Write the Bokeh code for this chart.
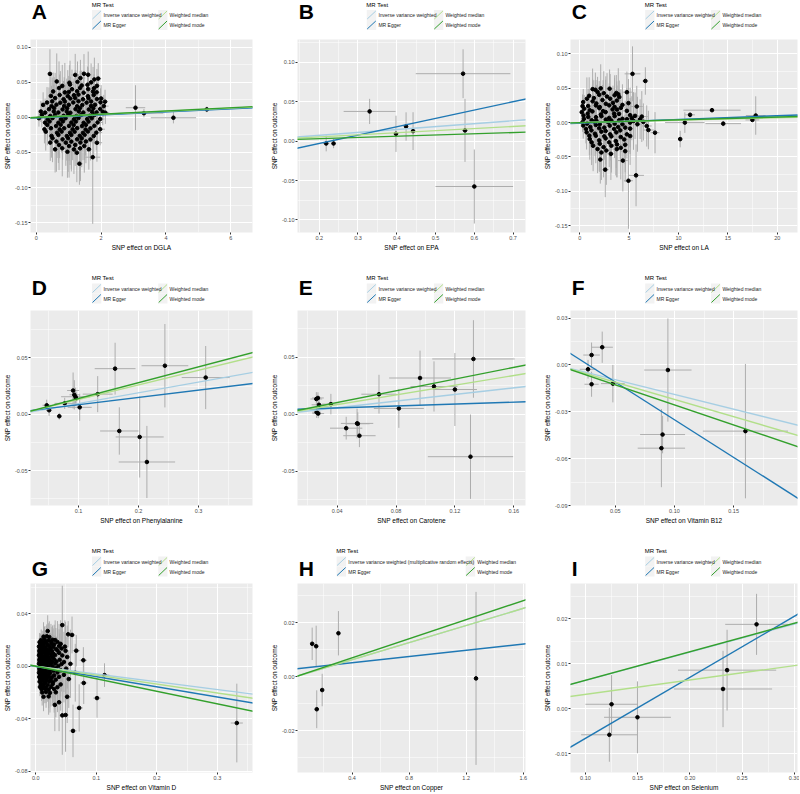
from bokeh.plotting import figure
from bokeh.layouts import row, column
from bokeh.models import Range1d, FixedTicker, NumeralTickFormatter, Slope, ColumnDataSource
from bokeh.core.properties import value
from bokeh.embed import file_html
from bokeh.resources import INLINE

FONT = "Liberation Sans"
METHODS = ["Inverse variance weighted", "MR Egger", "Weighted median", "Weighted mode"]
METHODS_H = ["Inverse variance weighted (multiplicative random effects)", "MR Egger",
             "Weighted median", "Weighted mode"]
COLORS = ["#a6cee3", "#1f78b4", "#b2df8a", "#33a02c"]
Y_LABEL = "SNP effect on outcome"

# ---------------- Panel A : DGLA ----------------
A_x = [0.42, 1.20, 1.47, 1.60,
       1.36, 1.79, 1.91,
       0.63, 1.02, 1.27, 1.69,
       0.80, 1.04, 1.40, 1.58, 1.87,
       0.70, 1.10, 1.35, 1.60, 1.78,
       0.52, 0.88, 1.00, 1.26, 1.46, 1.75, 1.86,
       0.45, 0.72, 0.97, 1.16, 1.30, 1.59, 1.77,
       0.58, 0.84, 1.05, 1.20, 1.44, 1.61, 1.87, 2.00,
       0.33, 0.49, 0.74, 0.88, 1.14, 1.30, 1.55, 1.69, 1.98, 2.12,
       0.21, 0.47, 0.62, 0.86, 1.00, 1.26, 1.42, 1.69, 1.81, 2.08,
       0.39, 0.55, 0.81, 0.95, 1.21, 1.35, 1.62, 1.76, 1.97,
       0.14, 0.27, 0.54, 0.68, 0.94, 1.05, 1.31, 1.45, 1.72, 1.86, 2.05, 2.13,
       0.17, 0.43, 0.58, 0.84, 0.98, 1.24, 1.38, 1.65, 1.79,
       0.08, 0.35, 0.50, 0.76, 0.90, 1.16, 1.30, 1.57, 1.71, 1.97,
       0.27, 0.41, 0.68, 0.82, 1.08, 1.22, 1.46, 1.61, 1.89,
       0.34, 0.61, 0.75, 1.01, 1.15, 1.41, 1.53, 1.79,
       0.25, 0.45, 0.72, 0.86, 1.12, 1.26, 1.52, 1.67, 1.97,
       0.29, 0.64, 0.78, 1.04, 1.18, 1.44, 1.59, 1.85,
       0.47, 0.68, 0.94, 1.08, 1.34, 1.49, 1.77,
       0.50, 0.81, 0.98, 1.26, 1.40, 1.67,
       0.43, 0.62, 0.91, 1.08, 1.36, 1.53, 1.87,
       0.70, 1.01, 1.20, 1.48,
       0.58, 0.80, 1.16, 1.35, 1.62,
       0.96, 1.25,
       1.74,
       1.33,
       3.06, 3.32, 4.23, 5.26]
A_y = [0.0620, 0.0605, 0.0622, 0.0608,
       0.0560, 0.0541, 0.0553,
       0.0512, 0.0494, 0.0507, 0.0499,
       0.0449, 0.0468, 0.0455, 0.0465, 0.0450,
       0.0418, 0.0401, 0.0420, 0.0403, 0.0415,
       0.0370, 0.0356, 0.0361, 0.0372, 0.0352, 0.0369, 0.0358,
       0.0306, 0.0320, 0.0303, 0.0316, 0.0325, 0.0302, 0.0319,
       0.0275, 0.0259, 0.0270, 0.0276, 0.0258, 0.0273, 0.0262, 0.0270,
       0.0212, 0.0228, 0.0209, 0.0226, 0.0213, 0.0230, 0.0211, 0.0227, 0.0214, 0.0224,
       0.0178, 0.0160, 0.0181, 0.0163, 0.0179, 0.0158, 0.0176, 0.0164, 0.0180, 0.0161,
       0.0117, 0.0133, 0.0114, 0.0131, 0.0118, 0.0135, 0.0113, 0.0129, 0.0119,
       0.0084, 0.0068, 0.0085, 0.0070, 0.0083, 0.0066, 0.0086, 0.0069, 0.0082, 0.0071, 0.0079, 0.0067,
       0.0037, 0.0020, 0.0036, 0.0022, 0.0038, 0.0019, 0.0035, 0.0023, 0.0034,
       -0.0011, -0.0027, -0.0010, -0.0026, -0.0012, -0.0028, -0.0009, -0.0025, -0.0013, -0.0024,
       -0.0074, -0.0058, -0.0076, -0.0057, -0.0073, -0.0059, -0.0077, -0.0060, -0.0072,
       -0.0107, -0.0123, -0.0105, -0.0121, -0.0108, -0.0124, -0.0106, -0.0120,
       -0.0170, -0.0154, -0.0171, -0.0155, -0.0169, -0.0153, -0.0172, -0.0156, -0.0168,
       -0.0203, -0.0219, -0.0202, -0.0218, -0.0204, -0.0220, -0.0201, -0.0217,
       -0.0264, -0.0249, -0.0266, -0.0250, -0.0263, -0.0248, -0.0265,
       -0.0298, -0.0313, -0.0297, -0.0312, -0.0299, -0.0314,
       -0.0359, -0.0344, -0.0360, -0.0345, -0.0358, -0.0343, -0.0361,
       -0.0393, -0.0408, -0.0392, -0.0407,
       -0.0455, -0.0440, -0.0456, -0.0441, -0.0454,
       -0.0490, -0.0503,
       -0.0567,
       -0.0660,
       0.0138, 0.0060, -0.0005, 0.0114]
A_sx = [0.08, 0.12, 0.06, 0.10,
        0.15, 0.07, 0.09,
        0.05, 0.11, 0.08, 0.13,
        0.09, 0.06, 0.14, 0.07, 0.10,
        0.12, 0.08, 0.05, 0.16, 0.09,
        0.07, 0.10, 0.13, 0.06, 0.11, 0.08, 0.12,
        0.09, 0.14, 0.07, 0.10, 0.05, 0.12, 0.18,
        0.06, 0.11, 0.08, 0.15, 0.09, 0.07, 0.20, 0.10,
        0.05, 0.09, 0.12, 0.07, 0.10, 0.14, 0.08, 0.11, 0.16, 0.09,
        0.04, 0.08, 0.11, 0.06, 0.13, 0.09, 0.07, 0.12, 0.10, 0.15,
        0.07, 0.10, 0.06, 0.12, 0.08, 0.15, 0.09, 0.11, 0.13,
        0.03, 0.06, 0.09, 0.12, 0.07, 0.10, 0.14, 0.08, 0.11, 0.17, 0.09, 0.12,
        0.05, 0.08, 0.11, 0.07, 0.13, 0.09, 0.12, 0.10, 0.14,
        0.03, 0.07, 0.10, 0.06, 0.12, 0.08, 0.15, 0.09, 0.11, 0.13,
        0.05, 0.09, 0.06, 0.11, 0.08, 0.13, 0.10, 0.07, 0.16,
        0.07, 0.10, 0.13, 0.08, 0.11, 0.06, 0.14, 0.09,
        0.05, 0.08, 0.12, 0.07, 0.10, 0.13, 0.09, 0.11, 0.15,
        0.06, 0.11, 0.08, 0.12, 0.09, 0.14, 0.10, 0.18,
        0.08, 0.12, 0.07, 0.10, 0.13, 0.09, 0.11,
        0.09, 0.06, 0.12, 0.08, 0.14, 0.10,
        0.07, 0.11, 0.09, 0.13, 0.08, 0.12, 0.16,
        0.10, 0.08, 0.12, 0.15,
        0.09, 0.13, 0.07, 0.11, 0.10,
        0.12, 0.09,
        0.23,
        0.10,
        0.30, 0.60, 0.70, 0.50]
A_sy = [0.035, 0.030, 0.028, 0.033,
        0.026, 0.031, 0.022,
        0.040, 0.025, 0.029, 0.027,
        0.030, 0.034, 0.021, 0.026, 0.024,
        0.038, 0.028, 0.024, 0.031, 0.020,
        0.027, 0.042, 0.023, 0.030, 0.026, 0.035, 0.022,
        0.033, 0.029, 0.037, 0.024, 0.028, 0.032, 0.021,
        0.036, 0.026, 0.031, 0.040, 0.025, 0.029, 0.023, 0.019,
        0.022, 0.034, 0.045, 0.027, 0.030, 0.038, 0.024, 0.028, 0.020, 0.017,
        0.018, 0.029, 0.036, 0.041, 0.026, 0.033, 0.030, 0.027, 0.022, 0.016,
        0.031, 0.044, 0.027, 0.035, 0.040, 0.029, 0.033, 0.025, 0.021,
        0.015, 0.020, 0.038, 0.030, 0.047, 0.034, 0.041, 0.028, 0.032, 0.024, 0.019, 0.016,
        0.018, 0.035, 0.029, 0.043, 0.031, 0.039, 0.027, 0.036, 0.022,
        0.012, 0.026, 0.040, 0.033, 0.048, 0.030, 0.037, 0.029, 0.034, 0.021,
        0.024, 0.031, 0.045, 0.036, 0.028, 0.042, 0.033, 0.030, 0.025,
        0.029, 0.038, 0.033, 0.050, 0.027, 0.035, 0.031, 0.026,
        0.020, 0.034, 0.041, 0.030, 0.044, 0.028, 0.037, 0.032, 0.023,
        0.027, 0.036, 0.030, 0.046, 0.033, 0.039, 0.029, 0.025,
        0.031, 0.040, 0.035, 0.052, 0.030, 0.036, 0.028,
        0.034, 0.029, 0.048, 0.037, 0.041, 0.030,
        0.026, 0.043, 0.033, 0.039, 0.055, 0.031, 0.027,
        0.036, 0.045, 0.030, 0.038,
        0.033, 0.040, 0.035, 0.044, 0.029,
        0.037, 0.042,
        0.095,
        0.030,
        0.032, 0.006, 0.008, 0.004]
A_slope = [0.0021, 0.0022, 0.0022, 0.0023]
A_icpt = [0.0, -0.0010, 0.0, 0.0]
A_xticks = [0, 2, 4, 6]
A_yticks = [-0.15, -0.10, -0.05, 0.00, 0.05, 0.10]

# ---------------- Panel B : EPA ----------------
B_x = [0.218, 0.237, 0.330, 0.398, 0.424, 0.442, 0.571, 0.576, 0.600]
B_y = [-0.0030, -0.0030, 0.0377, 0.0093, 0.0186, 0.0127, 0.0856, 0.0136, -0.0576]
B_sx = [0.008, 0.006, 0.067, 0.006, 0.005, 0.006, 0.122, 0.007, 0.100]
B_sy = [0.010, 0.006, 0.016, 0.023, 0.018, 0.024, 0.031, 0.040, 0.047]
B_slope = [0.037, 0.106, 0.0266, 0.0156]
B_icpt = [0.0, -0.0242, 0.0, 0.0]
B_xticks = [0.2, 0.3, 0.4, 0.5, 0.6, 0.7]
B_yticks = [-0.10, -0.05, 0.00, 0.05, 0.10]

# ---------------- Panel C : LA ----------------
C_x = [1.30, 1.58, 2.12, 3.02,
       1.80, 2.43, 3.70, 3.90, 4.77,
       0.95, 1.97, 2.76, 3.53, 4.00,
       0.72, 1.42, 2.30, 3.08, 3.75,
       0.35, 1.30, 1.68, 2.64, 3.36, 4.32, 4.93,
       0.28, 0.85, 1.64, 2.02, 2.98, 3.52, 4.16, 5.77,
       0.45, 1.01, 1.97, 2.36, 3.32, 3.77, 4.77,
       0.20, 0.80, 1.28, 2.14, 2.62, 3.48, 3.97, 5.10, 5.60,
       0.38, 0.86, 1.64, 2.19, 2.98, 3.53, 4.32, 5.27, 6.28,
       0.42, 1.20, 1.68, 2.64, 3.20, 3.99, 4.77, 5.44, 6.11,
       0.28, 0.75, 1.47, 2.02, 2.88, 3.53, 4.32, 5.10, 5.84, 6.44,
       0.35, 1.07, 1.62, 2.48, 3.03, 3.89, 4.60, 6.78,
       0.62, 1.18, 1.97, 2.62, 3.48, 4.10, 5.10, 6.95,
       0.69, 1.54, 2.19, 3.08, 3.70, 4.77, 7.62,
       0.97, 1.62, 2.48, 3.20, 4.15, 5.10,
       1.01, 1.97, 2.62, 3.65, 4.50,
       1.20, 2.02, 2.98, 3.77, 4.60,
       1.35, 2.41, 3.20, 4.15,
       1.80, 2.69, 3.75, 4.60,
       2.19, 3.15,
       2.08, 4.36,
       2.58, 5.70, 4.93,
       5.34, 6.64, 10.17, 10.64, 11.17, 13.39, 14.53, 17.48, 17.82]
C_y = [0.0487, 0.0478, 0.0499, 0.0494,
       0.0446, 0.0428, 0.0432, 0.0412, 0.0443,
       0.0390, 0.0405, 0.0380, 0.0399, 0.0372,
       0.0348, 0.0357, 0.0328, 0.0347, 0.0321,
       0.0299, 0.0310, 0.0279, 0.0274, 0.0288, 0.0258, 0.0284,
       0.0240, 0.0241, 0.0250, 0.0226, 0.0251, 0.0230, 0.0215, 0.0235,
       0.0202, 0.0180, 0.0211, 0.0167, 0.0192, 0.0190, 0.0171,
       0.0152, 0.0131, 0.0163, 0.0118, 0.0153, 0.0131, 0.0127, 0.0108, 0.0098,
       0.0104, 0.0083, 0.0079, 0.0093, 0.0068, 0.0094, 0.0055, 0.0064, 0.0088,
       0.0055, 0.0034, 0.0029, 0.0044, 0.0030, 0.0034, 0.0049, 0.0024, 0.0049,
       0.0006, -0.0015, 0.0015, -0.0025, 0.0005, -0.0016, -0.0024, 0.0000, -0.0024, 0.0010,
       -0.0043, -0.0064, -0.0034, -0.0073, -0.0044, -0.0064, -0.0073, -0.0049,
       -0.0093, -0.0113, -0.0083, -0.0122, -0.0093, -0.0113, -0.0088, -0.0108,
       -0.0142, -0.0162, -0.0132, -0.0171, -0.0142, -0.0171, -0.0147,
       -0.0190, -0.0191, -0.0200, -0.0201, -0.0210, -0.0196,
       -0.0240, -0.0259, -0.0230, -0.0269, -0.0245,
       -0.0288, -0.0308, -0.0288, -0.0318, -0.0323,
       -0.0337, -0.0357, -0.0337, -0.0367,
       -0.0386, -0.0406, -0.0386, -0.0416,
       -0.0435, -0.0455,
       -0.0538, -0.0553,
       -0.0685, -0.0768, -0.0846,
       0.0710, 0.0606, -0.0240, 0.0000, 0.0113, 0.0181, -0.0015, 0.0039, 0.0103]
C_sx = [0.20, 0.35, 0.15, 0.40,
        0.25, 0.30, 0.45, 0.20, 0.50,
        0.15, 0.30, 0.40, 0.25, 0.35,
        0.10, 0.20, 0.35, 0.30, 0.45,
        0.10, 0.25, 0.20, 0.40, 0.30, 0.55, 0.35,
        0.08, 0.15, 0.30, 0.20, 0.45, 0.25, 0.40, 0.60,
        0.10, 0.20, 0.35, 0.25, 0.30, 0.50, 0.40,
        0.06, 0.15, 0.25, 0.35, 0.20, 0.40, 0.30, 0.55, 0.45,
        0.08, 0.20, 0.30, 0.15, 0.35, 0.25, 0.45, 0.40, 0.60,
        0.10, 0.20, 0.25, 0.40, 0.30, 0.35, 0.50, 0.45, 0.55,
        0.06, 0.15, 0.25, 0.30, 0.20, 0.40, 0.35, 0.50, 0.45, 0.60,
        0.10, 0.20, 0.30, 0.25, 0.40, 0.35, 0.45, 0.50,
        0.12, 0.25, 0.20, 0.35, 0.30, 0.45, 0.40, 0.55,
        0.15, 0.30, 0.25, 0.40, 0.35, 0.50, 0.45,
        0.20, 0.25, 0.35, 0.30, 0.45, 0.40,
        0.20, 0.30, 0.40, 0.35, 0.50,
        0.25, 0.35, 0.30, 0.45, 0.40,
        0.30, 0.25, 0.40, 0.45,
        0.30, 0.35, 0.45, 0.50,
        0.35, 0.40,
        0.30, 0.50,
        0.35, 0.80, 0.45,
        0.80, 0.30, 0.20, 2.00, 0.50, 2.90, 1.80, 0.70, 1.00]
C_sy = [0.030, 0.025, 0.035, 0.028,
        0.022, 0.032, 0.026, 0.038, 0.030,
        0.027, 0.020, 0.034, 0.029, 0.024,
        0.031, 0.026, 0.022, 0.036, 0.028,
        0.019, 0.033, 0.027, 0.040, 0.025, 0.030, 0.035,
        0.017, 0.025, 0.037, 0.029, 0.032, 0.042, 0.027, 0.030,
        0.020, 0.031, 0.026, 0.045, 0.029, 0.035, 0.033,
        0.016, 0.028, 0.039, 0.032, 0.047, 0.030, 0.036, 0.040, 0.034,
        0.018, 0.033, 0.029, 0.043, 0.031, 0.039, 0.035, 0.032, 0.037,
        0.015, 0.027, 0.041, 0.034, 0.048, 0.030, 0.038, 0.042, 0.029,
        0.014, 0.024, 0.037, 0.045, 0.030, 0.050, 0.033, 0.036, 0.040, 0.027,
        0.019, 0.030, 0.042, 0.035, 0.046, 0.031, 0.039, 0.030,
        0.021, 0.036, 0.029, 0.048, 0.033, 0.041, 0.037, 0.028,
        0.025, 0.033, 0.044, 0.038, 0.052, 0.035, 0.030,
        0.028, 0.040, 0.034, 0.047, 0.036, 0.042,
        0.030, 0.045, 0.038, 0.050, 0.035,
        0.033, 0.041, 0.036, 0.048, 0.040,
        0.037, 0.044, 0.039, 0.046,
        0.035, 0.050, 0.041, 0.045,
        0.040, 0.038,
        0.035, 0.045,
        0.040, 0.045, 0.070,
        0.040, 0.020, 0.012, 0.015, 0.004, 0.003, 0.004, 0.003, 0.028]
C_slope = [0.00045, 0.00055, 0.00035, 0.00040]
C_icpt = [0.0, -0.0010, 0.0, 0.0]
C_xticks = [0, 5, 10, 15, 20]
C_yticks = [-0.15, -0.10, -0.05, 0.00, 0.05, 0.10]

# ---------------- Panel D : Phenylalanine ----------------
D_x = [0.047, 0.051, 0.068, 0.077, 0.091, 0.093, 0.095, 0.096, 0.102, 0.132, 0.161, 0.168,
       0.202, 0.214, 0.244, 0.312]
D_y = [0.0079, 0.0035, -0.0018, 0.0096, 0.0210, 0.0172, 0.0155, 0.0140, 0.0061, 0.0178, 0.0404,
       -0.0149, -0.0202, -0.0424, 0.0430, 0.0325]
D_sx = [0.007, 0.005, 0.004, 0.017, 0.010, 0.008, 0.024, 0.006, 0.020, 0.025, 0.034, 0.032,
        0.040, 0.047, 0.039, 0.040]
D_sy = [0.005, 0.005, 0.003, 0.005, 0.016, 0.013, 0.008, 0.006, 0.012, 0.016, 0.023, 0.021,
        0.036, 0.032, 0.037, 0.028]
D_slope = [0.095, 0.0649, 0.130, 0.140]
D_icpt = [0.0, 0.0019, 0.0, 0.0]
D_xticks = [0.1, 0.2, 0.3]
D_yticks = [-0.05, 0.00, 0.05]

# ---------------- Panel E : Carotene ----------------
E_x = [0.0258, 0.0269, 0.0276, 0.0260, 0.0271, 0.0357, 0.0461, 0.0535, 0.0540, 0.0551, 0.0684,
       0.0819, 0.0963, 0.1058, 0.1200, 0.1326, 0.1306]
E_y = [0.0134, 0.0143, 0.0083, 0.0018, 0.0006, 0.0089, -0.0122, -0.0080, -0.0083, -0.0188, 0.0176,
       0.0051, 0.0318, 0.0244, 0.0217, 0.0485, -0.0372]
E_sx = [0.004, 0.004, 0.005, 0.003, 0.004, 0.006, 0.011, 0.011, 0.008, 0.011, 0.012,
        0.017, 0.021, 0.016, 0.015, 0.028, 0.029]
E_sy = [0.006, 0.005, 0.006, 0.005, 0.004, 0.009, 0.010, 0.013, 0.010, 0.010, 0.017,
        0.017, 0.024, 0.022, 0.032, 0.034, 0.037]
E_slope = [0.145, 0.042, 0.2125, 0.257]
E_icpt = [0.0, 0.0039, 0.0, 0.0]
E_xticks = [0.04, 0.08, 0.12, 0.16]
E_yticks = [-0.05, 0.00, 0.05]

# ---------------- Panel F : Vitamin B12 ----------------
F_x = [0.027, 0.030, 0.039, 0.030, 0.048, 0.0945, 0.090, 0.089, 0.160]
F_y = [-0.0028, 0.0063, 0.0113, -0.0124, -0.0120, -0.0033, -0.0446, -0.0533, -0.0424]
F_sx = [0.007, 0.007, 0.009, 0.006, 0.010, 0.020, 0.019, 0.020, 0.036]
F_sy = [0.006, 0.008, 0.010, 0.008, 0.012, 0.033, 0.012, 0.025, 0.043]
F_slope = [-0.189, -0.482, -0.221, -0.256]
F_icpt = [0.0, 0.0131, 0.0, 0.0]
F_xticks = [0.05, 0.10, 0.15]
F_yticks = [-0.09, -0.06, -0.03, 0.00, 0.03]

# ---------------- Panel G : Vitamin D ----------------
G_x = [0.0439, 0.0198, 0.0536, 0.0600,
       0.0129, 0.0182, 0.0225,
       0.0091, 0.0145, 0.0214, 0.0279, 0.0321,
       0.0064, 0.0118, 0.0171, 0.0252, 0.0359,
       0.0080, 0.0134, 0.0198, 0.0268, 0.0305, 0.0412,
       0.0054, 0.0107, 0.0161, 0.0225, 0.0289, 0.0386, 0.0482,
       0.0070, 0.0123, 0.0177, 0.0241, 0.0332, 0.0428,
       0.0059, 0.0096, 0.0150, 0.0204, 0.0268, 0.0359, 0.0493, 0.0670,
       0.0064, 0.0112, 0.0166, 0.0220, 0.0284, 0.0386,
       0.0054, 0.0086, 0.0134, 0.0187, 0.0252, 0.0321, 0.0439,
       0.0070, 0.0107, 0.0155, 0.0209, 0.0279, 0.0520,
       0.0059, 0.0096, 0.0139, 0.0193, 0.0236, 0.0305, 0.0396, 0.0787,
       0.0064, 0.0107, 0.0161, 0.0214, 0.0268, 0.0343, 0.0466,
       0.0054, 0.0086, 0.0129, 0.0177, 0.0246, 0.0321, 0.0428, 0.0573,
       0.0070, 0.0112, 0.0155, 0.0209, 0.0279, 0.0375,
       0.0059, 0.0096, 0.0145, 0.0193, 0.0257, 0.0332, 0.0503,
       0.0064, 0.0107, 0.0161, 0.0225, 0.0295, 0.0412,
       0.0054, 0.0086, 0.0129, 0.0177, 0.0241, 0.0359, 0.0653,
       0.0070, 0.0118, 0.0166, 0.0214, 0.0305, 0.0466, 0.1136,
       0.0059, 0.0102, 0.0150, 0.0204, 0.0268, 0.0386,
       0.0075, 0.0123, 0.0182, 0.0246, 0.0332, 0.0546,
       0.0064, 0.0112, 0.0161, 0.0225, 0.0289, 0.0793,
       0.0086, 0.0139, 0.0198, 0.0279, 0.0412,
       0.0070, 0.0118, 0.0171, 0.0252, 0.0359,
       0.0096, 0.0150, 0.0214, 0.0305,
       0.0107, 0.0171, 0.0236, 0.0332,
       0.0129, 0.0214, 0.0520,
       0.1012, 0.0386, 0.0316, 0.0718, 0.0439, 0.0493, 0.3321, 0.0616]
G_y = [0.0313, 0.0268, 0.0243, 0.0238,
       0.0225, 0.0228, 0.0222,
       0.0200, 0.0203, 0.0197, 0.0201, 0.0199,
       0.0183, 0.0180, 0.0186, 0.0182, 0.0184,
       0.0168, 0.0171, 0.0165, 0.0169, 0.0166, 0.0170,
       0.0150, 0.0153, 0.0147, 0.0151, 0.0148, 0.0152, 0.0149,
       0.0133, 0.0136, 0.0130, 0.0134, 0.0131, 0.0135,
       0.0118, 0.0121, 0.0115, 0.0119, 0.0116, 0.0120, 0.0117, 0.0118,
       0.0100, 0.0103, 0.0097, 0.0101, 0.0098, 0.0102,
       0.0083, 0.0086, 0.0080, 0.0084, 0.0081, 0.0085, 0.0082,
       0.0068, 0.0071, 0.0065, 0.0069, 0.0066, 0.0070,
       0.0050, 0.0053, 0.0047, 0.0051, 0.0048, 0.0052, 0.0049, 0.0045,
       0.0033, 0.0036, 0.0030, 0.0034, 0.0031, 0.0035, 0.0032,
       0.0018, 0.0021, 0.0015, 0.0019, 0.0016, 0.0020, 0.0017, 0.0018,
       0.0000, 0.0003, -0.0003, 0.0001, -0.0002, 0.0002,
       -0.0018, -0.0015, -0.0021, -0.0017, -0.0020, -0.0016, -0.0019,
       -0.0033, -0.0030, -0.0036, -0.0032, -0.0035, -0.0031,
       -0.0050, -0.0047, -0.0053, -0.0049, -0.0052, -0.0048, -0.0050,
       -0.0068, -0.0065, -0.0071, -0.0067, -0.0070, -0.0066, -0.0068,
       -0.0083, -0.0080, -0.0086, -0.0082, -0.0085, -0.0081,
       -0.0100, -0.0097, -0.0103, -0.0099, -0.0102, -0.0098,
       -0.0118, -0.0115, -0.0121, -0.0117, -0.0120, -0.0128,
       -0.0138, -0.0135, -0.0141, -0.0137, -0.0139,
       -0.0158, -0.0155, -0.0161, -0.0157, -0.0160,
       -0.0175, -0.0172, -0.0178, -0.0174,
       -0.0200, -0.0197, -0.0203, -0.0199,
       -0.0233, -0.0230, -0.0233,
       -0.0243, -0.0275, -0.0295, -0.0318, -0.0375, -0.0372, -0.0433, -0.0493]
G_sx = [0.004, 0.003, 0.004, 0.005,
        0.002, 0.003, 0.003,
        0.002, 0.002, 0.003, 0.004, 0.003,
        0.001, 0.002, 0.003, 0.003, 0.004,
        0.002, 0.002, 0.003, 0.003, 0.004, 0.004,
        0.001, 0.002, 0.002, 0.003, 0.003, 0.004, 0.005,
        0.001, 0.002, 0.003, 0.003, 0.004, 0.004,
        0.001, 0.002, 0.002, 0.003, 0.003, 0.004, 0.005, 0.006,
        0.001, 0.002, 0.002, 0.003, 0.003, 0.004,
        0.001, 0.002, 0.002, 0.003, 0.003, 0.004, 0.004,
        0.001, 0.002, 0.002, 0.003, 0.003, 0.005,
        0.001, 0.002, 0.002, 0.003, 0.003, 0.004, 0.004, 0.006,
        0.001, 0.002, 0.002, 0.003, 0.003, 0.004, 0.005,
        0.001, 0.002, 0.002, 0.003, 0.003, 0.004, 0.004, 0.005,
        0.001, 0.002, 0.002, 0.003, 0.003, 0.004,
        0.001, 0.002, 0.002, 0.003, 0.003, 0.004, 0.005,
        0.001, 0.002, 0.002, 0.003, 0.003, 0.004,
        0.001, 0.002, 0.002, 0.003, 0.003, 0.004, 0.006,
        0.001, 0.002, 0.002, 0.003, 0.004, 0.005, 0.008,
        0.001, 0.002, 0.002, 0.003, 0.003, 0.004,
        0.001, 0.002, 0.003, 0.003, 0.004, 0.005,
        0.001, 0.002, 0.002, 0.003, 0.003, 0.006,
        0.002, 0.002, 0.003, 0.003, 0.004,
        0.001, 0.002, 0.003, 0.003, 0.004,
        0.002, 0.002, 0.003, 0.004,
        0.002, 0.002, 0.003, 0.004,
        0.002, 0.003, 0.005,
        0.006, 0.004, 0.004, 0.006, 0.005, 0.005, 0.010, 0.006]
G_sy = [0.030, 0.012, 0.010, 0.014,
        0.011, 0.009, 0.012,
        0.008, 0.010, 0.013, 0.011, 0.015,
        0.007, 0.009, 0.012, 0.014, 0.016,
        0.008, 0.011, 0.010, 0.013, 0.015, 0.018,
        0.006, 0.009, 0.012, 0.011, 0.014, 0.017, 0.020,
        0.008, 0.010, 0.013, 0.012, 0.016, 0.019,
        0.006, 0.009, 0.011, 0.014, 0.013, 0.017, 0.022, 0.012,
        0.007, 0.010, 0.012, 0.015, 0.014, 0.018,
        0.006, 0.008, 0.011, 0.013, 0.016, 0.015, 0.021,
        0.007, 0.010, 0.012, 0.014, 0.017, 0.024,
        0.006, 0.009, 0.011, 0.013, 0.015, 0.018, 0.020, 0.010,
        0.007, 0.010, 0.012, 0.014, 0.016, 0.019, 0.023,
        0.006, 0.008, 0.011, 0.013, 0.015, 0.017, 0.021, 0.026,
        0.007, 0.010, 0.012, 0.014, 0.016, 0.018,
        0.006, 0.009, 0.011, 0.013, 0.015, 0.019, 0.024,
        0.007, 0.010, 0.012, 0.014, 0.017, 0.020,
        0.006, 0.008, 0.011, 0.013, 0.016, 0.018, 0.022,
        0.007, 0.010, 0.012, 0.015, 0.017, 0.021, 0.009,
        0.006, 0.009, 0.011, 0.014, 0.016, 0.019,
        0.007, 0.010, 0.013, 0.015, 0.018, 0.022,
        0.006, 0.009, 0.012, 0.014, 0.017, 0.016,
        0.008, 0.011, 0.013, 0.016, 0.020,
        0.007, 0.010, 0.012, 0.015, 0.019,
        0.009, 0.011, 0.014, 0.018,
        0.010, 0.012, 0.015, 0.019,
        0.011, 0.014, 0.020,
        0.015, 0.022, 0.020, 0.018, 0.030, 0.028, 0.030, 0.020]
G_slope = [-0.0594, -0.0777, -0.068, -0.0957]
G_icpt = [0.0, -0.0002, 0.0, 0.0]
G_xticks = [0.0, 0.1, 0.2, 0.3]
G_yticks = [-0.08, -0.04, 0.00, 0.04]

# ---------------- Panel H : Copper ----------------
H_x = [0.120, 0.148, 0.304, 0.190, 0.152, 1.269]
H_y = [0.0122, 0.0113, 0.0161, -0.0049, -0.0120, -0.0006]
H_sx = [0.010, 0.008, 0.010, 0.012, 0.012, 0.010]
H_sy = [0.0060, 0.0076, 0.0082, 0.0060, 0.0070, 0.0320]
H_slope = [0.0158, 0.00575, 0.0158, 0.0176]
H_icpt = [0.0, 0.0029, 0.0, 0.0]
H_xticks = [0.4, 0.8, 1.2, 1.6]
H_yticks = [-0.02, 0.00, 0.02]

# ---------------- Panel I : Selenium ----------------
I_x = [0.1250, 0.1229, 0.1498, 0.2356, 0.2317, 0.2638]
I_y = [0.0010, -0.0058, -0.0019, 0.0086, 0.0044, 0.0188]
I_sx = [0.025, 0.027, 0.032, 0.047, 0.047, 0.030]
I_sy = [0.0065, 0.0060, 0.0080, 0.0090, 0.0085, 0.0068]
I_slope = [0.0630, 0.136, 0.032, 0.0635]
I_icpt = [0.0, -0.0202, 0.0, 0.0]
I_xticks = [0.10, 0.15, 0.20, 0.25, 0.30]
I_yticks = [-0.01, 0.00, 0.01, 0.02]

PANELS = [
    dict(letter="A", x=A_x, y=A_y, sx=A_sx, sy=A_sy, slope=A_slope, icpt=A_icpt,
         xr=(-0.18, 6.67), yr=(-0.164, 0.111), xt=A_xticks, yt=A_yticks, xf="0", yf="0.00",
         xlabel="SNP effect on DGLA", methods=METHODS),
    dict(letter="B", x=B_x, y=B_y, sx=B_sx, sy=B_sy, slope=B_slope, icpt=B_icpt,
         xr=(0.144, 0.732), yr=(-0.116, 0.129), xt=B_xticks, yt=B_yticks, xf="0.0", yf="0.00",
         xlabel="SNP effect on EPA", methods=METHODS),
    dict(letter="C", x=C_x, y=C_y, sx=C_sx, sy=C_sy, slope=C_slope, icpt=C_icpt,
         xr=(-0.94, 22.05), yr=(-0.160, 0.121), xt=C_xticks, yt=C_yticks, xf="0", yf="0.00",
         xlabel="SNP effect on LA", methods=METHODS),
    dict(letter="D", x=D_x, y=D_y, sx=D_sx, sy=D_sy, slope=D_slope, icpt=D_icpt,
         xr=(0.020, 0.390), yr=(-0.081, 0.092), xt=D_xticks, yt=D_yticks, xf="0.0", yf="0.00",
         xlabel="SNP effect on Phenylalanine", methods=METHODS),
    dict(letter="E", x=E_x, y=E_y, sx=E_sx, sy=E_sy, slope=E_slope, icpt=E_icpt,
         xr=(0.013, 0.168), yr=(-0.080, 0.091), xt=E_xticks, yt=E_yticks, xf="0.00", yf="0.00",
         xlabel="SNP effect on Carotene", methods=METHODS),
    dict(letter="F", x=F_x, y=F_y, sx=F_sx, sy=F_sy, slope=F_slope, icpt=F_icpt,
         xr=(0.0122, 0.204), yr=(-0.090, 0.0348), xt=F_xticks, yt=F_yticks, xf="0.00", yf="0.00",
         xlabel="SNP effect on Vitamin B12", methods=METHODS),
    dict(letter="G", x=G_x, y=G_y, sx=G_sx, sy=G_sy, slope=G_slope, icpt=G_icpt,
         xr=(-0.0086, 0.358), yr=(-0.081, 0.063), xt=G_xticks, yt=G_yticks, xf="0.0", yf="0.00",
         xlabel="SNP effect on Vitamin D", methods=METHODS),
    dict(letter="H", x=H_x, y=H_y, sx=H_sx, sy=H_sy, slope=H_slope, icpt=H_icpt,
         xr=(0.017, 1.616), yr=(-0.0354, 0.0345), xt=H_xticks, yt=H_yticks, xf="0.0", yf="0.00",
         xlabel="SNP effect on Copper", methods=METHODS_H),
    dict(letter="I", x=I_x, y=I_y, sx=I_sx, sy=I_sy, slope=I_slope, icpt=I_icpt,
         xr=(0.0857, 0.303), yr=(-0.0142, 0.0279), xt=I_xticks, yt=I_yticks, xf="0.00", yf="0.00",
         xlabel="SNP effect on Selenium", methods=METHODS),
]

# layout (pixels)
COL_W = [265, 265, 269]
COL_BL = [26, 32, 40]
COL_BR = [13, 5, 2]
ROW_HEAD = [39, 45, 45]
ROW_MAIN = [226, 228, 210]
ROW_BB = [33, 33, 15]
TITLE_Y = [4, 12, 12]
KEY_Y = [9.5, 18, 18]
LETTER_Y = [11, 22, 30]
KEY_X = [(73, 152), (80, 158), (88, 166)]
KEY_X_H = (45, 195)


def minors(t, lo, hi):
    step = t[1] - t[0]
    cand = [t[0] - step / 2] + [(a + b) / 2 for a, b in zip(t[:-1], t[1:])] + [t[-1] + step / 2]
    return [c for c in cand if lo <= c <= hi]


def make_header(P, w, h, ri, ci):
    p = figure(width=w, height=h, x_range=Range1d(0, w), y_range=Range1d(h, 0),
               toolbar_location=None, output_backend="svg", min_border=0,
               x_axis_location=None, y_axis_location=None)
    p.grid.visible = False
    p.outline_line_color = None
    p.background_fill_color = "white"
    p.border_fill_color = "white"
    p.text(x=[1.5], y=[LETTER_Y[ri]], text=[P["letter"]], text_font=value(FONT),
           text_font_size="21px", text_font_style="bold", text_color="black",
           text_baseline="middle", text_align="left")
    kx1, kx2 = KEY_X_H if P["letter"] == "H" else KEY_X[ci]
    ky = KEY_Y[ri]
    p.text(x=[kx1], y=[TITLE_Y[ri]], text=["MR Test"], text_font=value(FONT),
           text_font_size="6px", text_color="black", text_baseline="middle", text_align="left")
    kxs = [kx1, kx1, kx2, kx2]
    kys = [ky, ky + 10, ky, ky + 10]
    p.rect(x=[k + 6 for k in kxs], y=[k + 5 for k in kys], width=11, height=10,
           fill_color="#F2F2F2", line_color=None)
    p.segment(x0=[k + 1 for k in kxs], y0=[k + 9 for k in kys],
              x1=[k + 11 for k in kxs], y1=[k + 1 for k in kys],
              line_color=COLORS, line_width=1)
    p.text(x=[k + 14 for k in kxs], y=[k + 5 for k in kys], text=P["methods"],
           text_font=value(FONT), text_font_size="5px", text_color="#222222",
           text_baseline="middle", text_align="left")
    return p


def make_main(P, w, h, bl, br, bb):
    xr, yr = P["xr"], P["yr"]
    p = figure(width=w, height=h, x_range=Range1d(*xr), y_range=Range1d(*yr),
               toolbar_location=None, output_backend="svg",
               min_border_left=bl, min_border_right=br, min_border_top=0, min_border_bottom=bb)
    p.background_fill_color = "#EBEBEB"
    p.border_fill_color = "white"
    p.outline_line_color = None
    xt = FixedTicker(ticks=P["xt"], minor_ticks=minors(P["xt"], *xr))
    yt = FixedTicker(ticks=P["yt"], minor_ticks=minors(P["yt"], *yr))
    p.xaxis.ticker = xt
    p.yaxis.ticker = yt
    p.xgrid.ticker = xt
    p.ygrid.ticker = yt
    p.xaxis.formatter = NumeralTickFormatter(format=P["xf"])
    p.yaxis.formatter = NumeralTickFormatter(format=P["yf"])
    for g in (p.xgrid, p.ygrid):
        g.grid_line_color = "white"
        g.grid_line_width = 1.1
        g.minor_grid_line_color = "white"
        g.minor_grid_line_width = 0.5
    for ax in (p.xaxis, p.yaxis):
        ax.axis_line_color = None
        ax.major_tick_line_color = "#333333"
        ax.major_tick_out = 2
        ax.major_tick_in = 0
        ax.minor_tick_out = 0
        ax.minor_tick_in = 0
        ax.major_label_text_font = FONT
        ax.major_label_text_font_size = "5.5px"
        ax.major_label_text_color = "#4D4D4D"
        ax.major_label_standoff = 1
        ax.axis_label_text_font = FONT
        ax.axis_label_text_font_size = "6.5px"
        ax.axis_label_text_font_style = "normal"
        ax.axis_label_text_color = "black"
        ax.axis_label_standoff = 1
    p.xaxis.axis_label = P["xlabel"]
    p.yaxis.axis_label = Y_LABEL

    xs, ys, sxs, sys_ = P["x"], P["y"], P["sx"], P["sy"]
    src = ColumnDataSource(dict(
        x=xs, y=ys,
        xlo=[a - b for a, b in zip(xs, sxs)], xhi=[a + b for a, b in zip(xs, sxs)],
        ylo=[a - b for a, b in zip(ys, sys_)], yhi=[a + b for a, b in zip(ys, sys_)],
    ))
    p.segment(x0="x", y0="ylo", x1="x", y1="yhi", source=src, line_color="#ADADAD", line_width=1)
    p.segment(x0="xlo", y0="y", x1="xhi", y1="y", source=src, line_color="#ADADAD", line_width=1)
    p.scatter(x="x", y="y", source=src, size=3.6, color="black")
    for s, i, c in zip(P["slope"], P["icpt"], COLORS):
        p.add_layout(Slope(gradient=s, y_intercept=i, line_color=c, line_width=1.4))
    return p


rows = []
for ri in range(3):
    cells = []
    for ci in range(3):
        P = PANELS[ri * 3 + ci]
        hdr = make_header(P, COL_W[ci], ROW_HEAD[ri], ri, ci)
        mn = make_main(P, COL_W[ci], ROW_MAIN[ri], COL_BL[ci], COL_BR[ci], ROW_BB[ri])
        cells.append(column(hdr, mn, spacing=0))
    rows.append(row(*cells, spacing=0))
layout = column(*rows, spacing=0)

open("out.html", "w").write(file_html(layout, INLINE))
